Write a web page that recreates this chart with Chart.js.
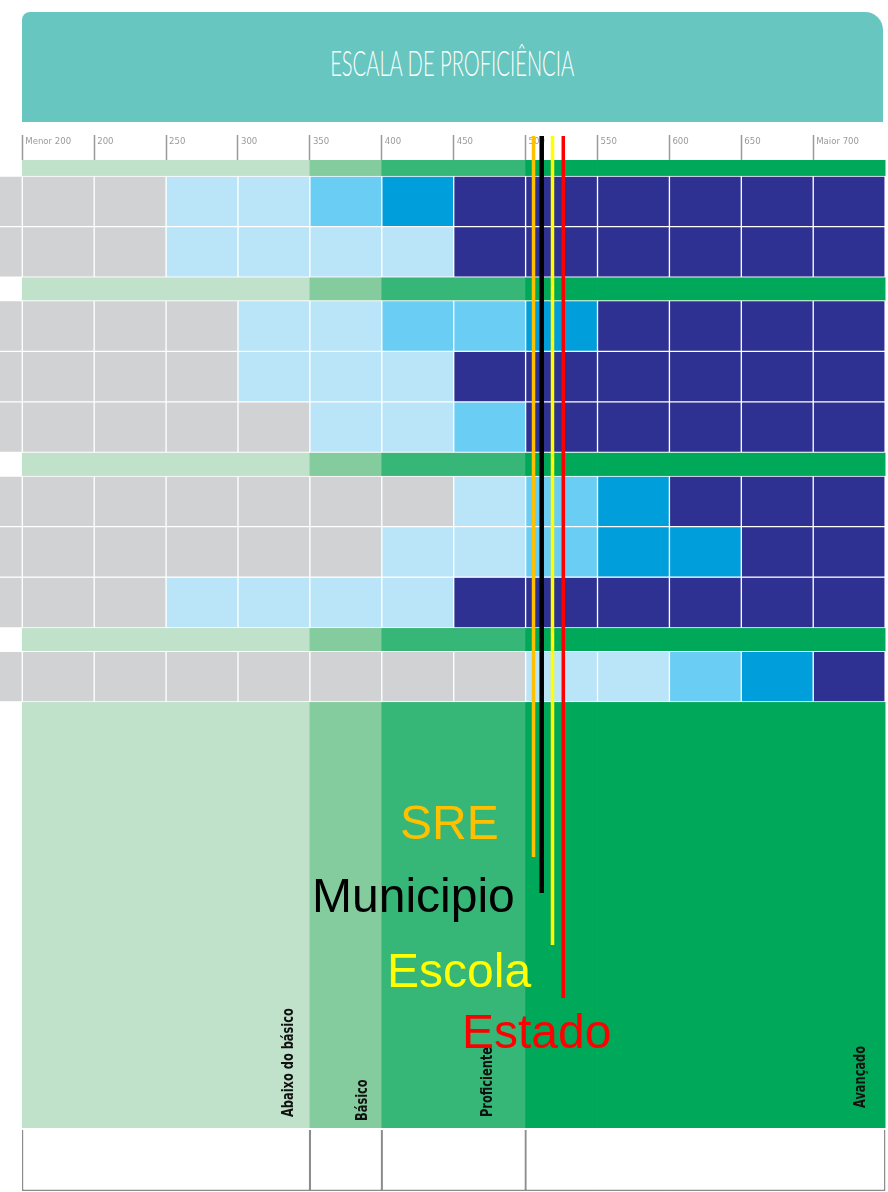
<!DOCTYPE html>
<html lang="pt-BR">
<head>
<meta charset="utf-8">
<title>Escala de Proficiência</title>
<script src="https://cdn.jsdelivr.net/npm/chart.js@4.4.1/dist/chart.umd.min.js"></script>
<style>
  html, body { margin: 0; padding: 0; background: #fff; }
  #wrap { position: relative; width: 888px; height: 1192px; overflow: hidden; }
  #grafico { position: absolute; left: 0; top: 0; }
  #cabecalho {
    position: absolute; left: 22px; top: 12px; width: 861px; height: 110px;
    background: #67c6c0; border-radius: 8px 18px 0 0;
  }
  #titulo {
    position: absolute; left: 0; right: 0; top: 32px; height: 36px;
    line-height: 36px; text-align: center; color: #fff;
    font-family: Lato, "DejaVu Sans", sans-serif; font-weight: 300; font-size: 36px;
  }
  #titulo span { display: inline-block; white-space: nowrap; transform-origin: center; }
</style>
</head>
<body>
<div id="wrap">
  <canvas id="grafico" width="888" height="1192"></canvas>
  <div id="cabecalho"><div id="titulo"><span>ESCALA DE PROFICIÊNCIA</span></div></div>
</div>
<script>
// --- Dados ---
const colunas = ['Menor 200', '200', '250', '300', '350', '400', '450', '500', '550', '600', '650', 'Maior 700'];
const inicioFaixa = [150, 200, 250, 300, 350, 400, 450, 500, 550, 600, 650, 700];

// nível de cada célula: 0 cinza, 1 azul claro, 2 azul, 3 azul médio, 4 azul escuro
const bloco1 = [
    [0, 0, 1, 1, 2, 3, 4, 4, 4, 4, 4, 4],
    [0, 0, 1, 1, 1, 1, 4, 4, 4, 4, 4, 4]
];
const bloco2 = [
    [0, 0, 0, 1, 1, 2, 2, 3, 4, 4, 4, 4],
    [0, 0, 0, 1, 1, 1, 4, 4, 4, 4, 4, 4],
    [0, 0, 0, 0, 1, 1, 2, 4, 4, 4, 4, 4]
];
const bloco3 = [
    [0, 0, 0, 0, 0, 0, 1, 2, 3, 4, 4, 4],
    [0, 0, 0, 0, 0, 1, 1, 2, 3, 3, 4, 4],
    [0, 0, 1, 1, 1, 1, 4, 4, 4, 4, 4, 4]
];
const bloco4 = [
    [0, 0, 0, 0, 0, 0, 0, 1, 1, 2, 3, 4]
];

const padroes = ['Abaixo do básico', 'Básico', 'Proficiente', 'Avançado'];
const limitesPadrao = [150, 350, 400, 500, 750];

const referencias = ['SRE', 'Municipio', 'Escola', 'Estado'];
const proficiencias = [505.5, 511.2, 518.7, 526.2];

// --- Estilo e posições (px) ---
const corNivel = ['#d1d2d4', '#bae4f8', '#69cdf4', '#009fdb', '#2e3192'];
const corPadrao = ['#c0e2cb', '#84cb9d', '#36b677', '#00a859'];
const corReferencia = ['#ffc000', '#000000', '#ffff00', '#ff0000'];

const TOPO = 160;                 // topo da área do gráfico
const ALT_FAIXA = [16, 23.5, 23.5, 23.5];
const ALT_LINHA = 50.6;
const FIM_FAIXA_GRANDE = 1128;
const TABELA = [1130, 1191];
const LINHA_TOPO = 136;
const LINHA_FIM = [857, 893, 945, 998];
const POS_LEGENDA = [[400, 839], [312, 912], [387, 987], [462, 1048]];
const DESLOC_PADRAO = [21, 19, 38, 24];
const BASE_PADRAO = [1117, 1121, 1117, 1108];

// título do cabeçalho estreitado
const tituloSpan = document.querySelector('#titulo span');
tituloSpan.style.transform = 'scaleX(' + (244 / tituloSpan.getBoundingClientRect().width) + ')';

// --- Conjuntos de dados ---
const meia = 25;
const padraoDaColuna = (v) => {
    for (let k = 0; k < padroes.length; k++) {
        if (v >= limitesPadrao[k] && v < limitesPadrao[k + 1]) return k;
    }
    return padroes.length - 1;
};

function faixa(y0, y1) {
    return {
        type: 'bar',
        data: inicioFaixa.map(v => ({ x: v + meia, y: [y0, y1] })),
        backgroundColor: inicioFaixa.map(v => corPadrao[padraoDaColuna(v)]),
        borderWidth: 0,
        barPercentage: 1.01,
        categoryPercentage: 1,
        grouped: false,
        order: 2
    };
}

function celulas(linha, y0, y1) {
    return {
        type: 'bar',
        data: [{ x: inicioFaixa[0] - meia, y: [y0, y1] }]
            .concat(linha.map((n, i) => ({ x: inicioFaixa[i] + meia, y: [y0, y1] }))),
        backgroundColor: [corNivel[0]].concat(linha.map(n => corNivel[n])),
        borderColor: '#ffffff',
        borderWidth: 1,
        borderSkipped: false,
        barPercentage: 1,
        categoryPercentage: 1,
        grouped: false,
        order: 1
    };
}

const datasets = [];
let y = 0;
[bloco1, bloco2, bloco3, bloco4].forEach((bloco, b) => {
    datasets.push(faixa(y, y + ALT_FAIXA[b]));
    y += ALT_FAIXA[b];
    bloco.forEach(linha => {
        datasets.push(celulas(linha, y, y + ALT_LINHA));
        y += ALT_LINHA;
    });
});
datasets.push(faixa(y, FIM_FAIXA_GRANDE - TOPO));

// tabela vazia no rodapé
datasets.push({
    type: 'bar',
    data: inicioFaixa.map(v => ({ x: v + meia, y: [TABELA[0] - TOPO, TABELA[1] - TOPO] })),
    backgroundColor: '#ffffff',
    borderColor: '#8c8c8c',
    borderWidth: (ctx) => {
        const v = inicioFaixa[ctx.dataIndex];
        return {
            left: limitesPadrao.includes(v) ? 1.5 : 0,
            right: limitesPadrao.includes(v + 2 * meia) ? 1.5 : 0,
            top: 0,
            bottom: 1.5
        };
    },
    borderSkipped: false,
    barPercentage: 1.01,
    categoryPercentage: 1,
    grouped: false,
    order: 2
});

// linhas de referência
referencias.forEach((nome, i) => {
    datasets.push({
        type: 'line',
        label: nome,
        data: [
            { x: proficiencias[i], y: LINHA_TOPO - TOPO },
            { x: proficiencias[i], y: LINHA_FIM[i] - TOPO }
        ],
        borderColor: corReferencia[i],
        borderWidth: i === 1 ? 4.5 : 3.5,
        pointRadius: 0,
        clip: false,
        order: 0
    });
});

// --- Textos desenhados sobre o gráfico ---
const rotulos = {
    id: 'rotulos',
    afterDatasetsDraw(chart) {
        const { ctx, scales: { x } } = chart;
        ctx.save();
        ctx.fillStyle = '#111111';
        ctx.font = 'bold 15px "DejaVu Sans", sans-serif';
        ctx.textBaseline = 'middle';
        ctx.textAlign = 'left';
        padroes.forEach((nome, k) => {
            const px = x.getPixelForValue(limitesPadrao[k + 1]) - DESLOC_PADRAO[k];
            ctx.save();
            ctx.translate(px, BASE_PADRAO[k]);
            ctx.rotate(-Math.PI / 2);
            ctx.scale(0.76, 1);
            ctx.fillText(nome, 0, 0);
            ctx.restore();
        });

        ctx.font = '48px "Liberation Sans", Arial, sans-serif';
        ctx.textBaseline = 'alphabetic';
        referencias.forEach((nome, i) => {
            ctx.fillStyle = corReferencia[i];
            ctx.fillText(nome, POS_LEGENDA[i][0], POS_LEGENDA[i][1]);
        });
        ctx.restore();
    }
};

new Chart(document.getElementById('grafico'), {
    data: { datasets },
    options: {
        responsive: false,
        devicePixelRatio: 1,
        animation: false,
        events: [],
        layout: { padding: { top: TOPO - 25, bottom: 1, left: 0, right: 0 } },
        plugins: {
            legend: { display: false },
            tooltip: { enabled: false }
        },
        scales: {
            x: {
                type: 'linear',
                position: 'top',
                offset: false,
                min: 134.5,
                max: 752,
                afterBuildTicks: (s) => { s.ticks = inicioFaixa.map(v => ({ value: v })); },
                afterFit: (s) => { s.height = 25; s.paddingLeft = 0; s.paddingRight = 0; },
                ticks: {
                    autoSkip: false,
                    maxRotation: 0,
                    align: 'start',
                    padding: -12,
                    labelOffset: 3,
                    color: '#9a9a9a',
                    font: { family: "'DejaVu Sans Condensed', 'DejaVu Sans', sans-serif", size: 9.5 },
                    callback: (value, index) => colunas[index]
                },
                grid: {
                    offset: false,
                    drawOnChartArea: false,
                    drawTicks: true,
                    tickLength: 25,
                    tickColor: '#9a9a9a',
                    tickWidth: 1.5
                },
                border: { display: false }
            },
            y: {
                type: 'linear',
                display: false,
                reverse: true,
                min: 0,
                max: TABELA[1] - TOPO
            }
        }
    },
    plugins: [rotulos]
});
</script>
</body>
</html>
